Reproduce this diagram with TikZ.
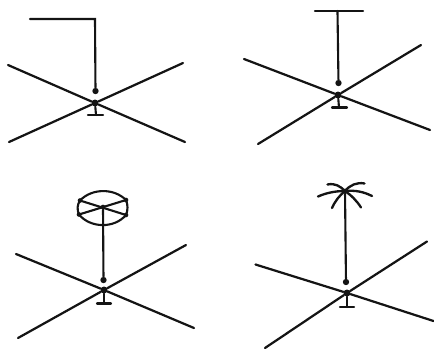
\documentclass[tikz,border=0pt]{standalone}
\usepackage{xcolor}
\usepackage{tikz}
\definecolor{inkBlack}{HTML}{141414}
\tikzset{
  groundline/.style={draw=inkBlack, line width=1.9pt, line cap=round},
  polestroke/.style={draw=inkBlack, line width=1.8pt, line cap=round, line join=miter},
  frondstroke/.style={draw=inkBlack, line width=2pt, line cap=round},
  feeddot/.style={circle, fill=inkBlack, inner sep=0pt, minimum size=0.19cm},
  crossdot/.style={circle, fill=inkBlack, inner sep=0pt, minimum size=0.21cm},
  rimdot/.style={circle, fill=inkBlack, inner sep=0pt, minimum size=0.14cm}
}
\begin{document}
\begin{tikzpicture}[x=0.03cm, y=-0.03cm]
    \useasboundingbox (0,0) rectangle (434,351);

    % top left: bent wire
    \node[crossdot] (crossA) at (95,103) {};
    \node[feeddot] (feedA) at (95.5,91) {};
    \coordinate (bendA) at (95,19);
    \coordinate (endA) at (30,19);
    \coordinate (footA) at (96,115);
    \draw[groundline] (8,65) -- (crossA) -- (185,142);
    \draw[groundline] (9,142) -- (crossA) -- (183,63);
    \draw[polestroke] (feedA) -- (bendA) -- (endA);
    \draw[polestroke] (crossA) -- (footA);
    \draw[polestroke] (88,115) -- (103,115);

    % top right: T wire
    \node[crossdot] (crossB) at (338,95) {};
    \node[feeddot] (feedB) at (338.5,83) {};
    \coordinate (topB) at (337.5,11);
    \coordinate (footB) at (339,107.5);
    \draw[groundline] (244,59) -- (crossB) -- (430,130);
    \draw[groundline] (258,144) -- (crossB) -- (421,45);
    \draw[polestroke] (feedB) -- (topB);
    \draw[polestroke] (315,11) -- (363,11);
    \draw[polestroke] (crossB) -- (footB);
    \draw[polestroke] (332,107.5) -- (347,107.5);

    % bottom left: wheel on top
    \node[crossdot] (crossC) at (104,290) {};
    \node[feeddot] (feedC) at (103.5,280) {};
    \coordinate (footC) at (104,303.5);
    \node[rimdot] (hubC) at (103,207) {};
    \node[rimdot] (rimNW) at (80,200.5) {};
    \node[rimdot] (rimNE) at (126,200) {};
    \node[rimdot] (rimSW) at (79,214.5) {};
    \node[rimdot] (rimSE) at (126,215) {};
    \draw[groundline] (16,254) -- (crossC) -- (194,328);
    \draw[groundline] (18,338) -- (crossC) -- (186,245);
    \draw[polestroke] (feedC) -- (hubC);
    \draw[polestroke] (crossC) -- (footC);
    \draw[polestroke] (97,303.5) -- (111,303.5);
    \draw[polestroke] (rimNW.center) -- (rimSE.center);
    \draw[polestroke] (rimNE.center) -- (rimSW.center);
    \draw[polestroke] (rimNW.center) .. controls (92,188) and (114,188) .. (rimNE.center);
    \draw[polestroke] (rimSW.center) .. controls (90,228) and (114,229) .. (rimSE.center);
    \draw[polestroke] (rimNW.center) .. controls (77,205) and (77,210) .. (rimSW.center);
    \draw[polestroke] (rimNE.center) .. controls (128,205) and (128,210) .. (rimSE.center);

    % bottom right: umbrella of wires
    \node[crossdot] (crossD) at (347,293) {};
    \node[feeddot] (feedD) at (346,282) {};
    \node[rimdot] (hubD) at (345,191) {};
    \coordinate (footD) at (347,307);
    \draw[groundline] (255.5,264.5) -- (crossD) -- (433.5,321);
    \draw[groundline] (265,348) -- (crossD) -- (427,241.5);
    \draw[polestroke] (feedD) -- (hubD);
    \draw[polestroke] (crossD) -- (footD);
    \draw[polestroke] (340,307) -- (354,307);
    \draw[frondstroke] (hubD.center) .. controls (340,186) and (335,183) .. (327.5,184.5);
    \draw[frondstroke] (hubD.center) .. controls (350,185) and (357,182) .. (364.5,183.5);
    \draw[frondstroke] (hubD.center) .. controls (335,191) and (326,193) .. (318,196.5);
    \draw[frondstroke] (hubD.center) .. controls (356,190) and (364,192) .. (372,196);
    \draw[frondstroke] (hubD.center) .. controls (340,195) and (335,201) .. (332,208);
    \draw[frondstroke] (hubD.center) .. controls (351,195) and (357,201) .. (361,207.5);
\end{tikzpicture}
\end{document}
